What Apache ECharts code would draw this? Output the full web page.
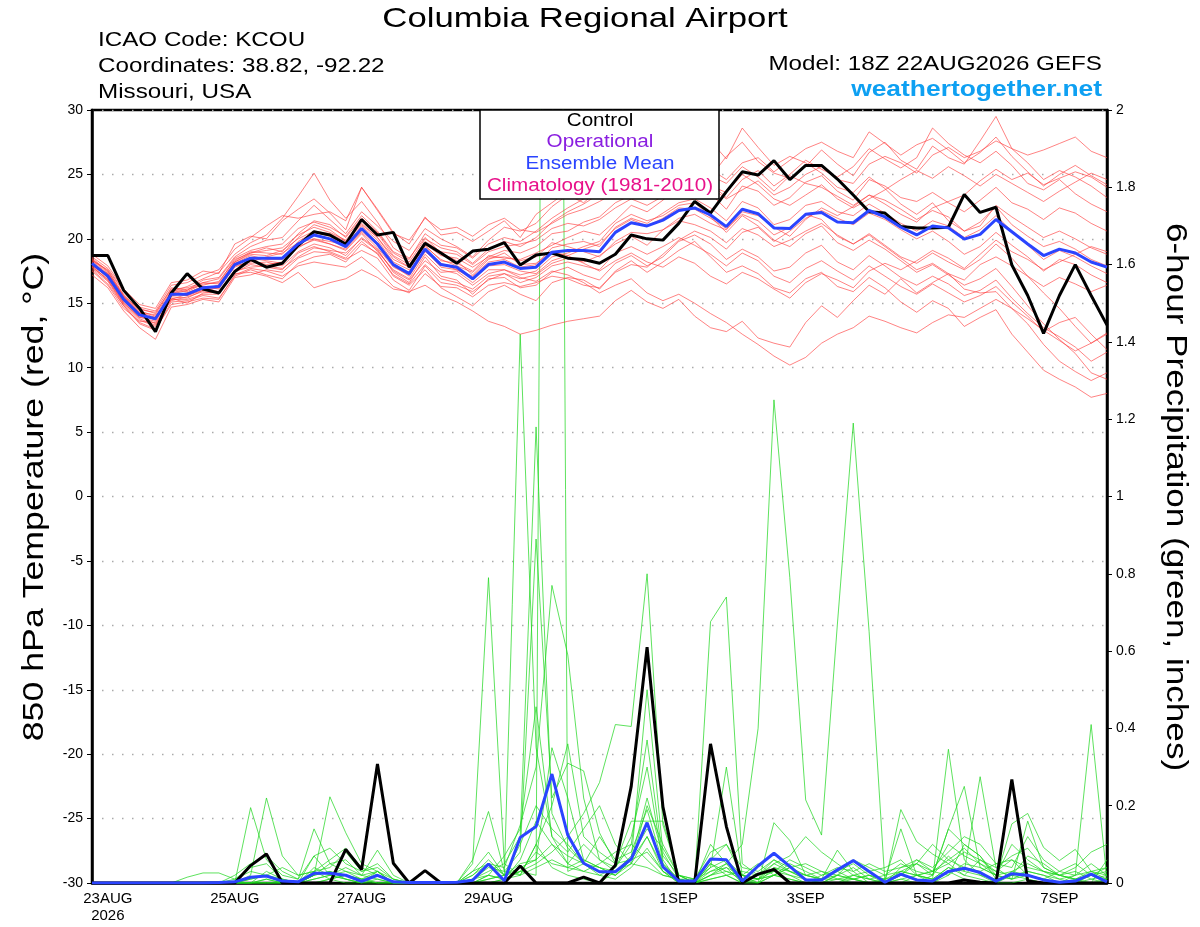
<!DOCTYPE html>
<html>
<head>
<meta charset="utf-8">
<script src="https://cdn.jsdelivr.net/npm/echarts@6.0.0/dist/echarts.min.js"></script>
<style>
html,body{margin:0;padding:0;background:#fff;}
#chart{width:1200px;height:927px;}
</style>
</head>
<body>
<div id="chart"></div>
<script>
// ---- time axis: 6-hourly from 18Z 22AUG2026 (65 steps) ----
const startTime = Date.UTC(2026, 7, 22, 18);
const times = [];
for (let k = 0; k < 65; k++) times.push(new Date(startTime + k * 6 * 3600 * 1000).toISOString().slice(0, 13) + 'Z');
const tickIdx = [1, 9, 17, 25, 37, 45, 53, 61];
const tickText = ['23AUG\n2026', '25AUG', '27AUG', '29AUG', '1SEP', '3SEP', '5SEP', '7SEP'];

// ---- 850 hPa temperature (°C) ----
const tempControl = [18.7,18.7,16.0,14.6,12.8,15.8,17.3,16.1,15.8,17.45,
 18.4,17.8,18.1,19.5,20.55,20.3,19.6,21.5,20.3,20.5,
 17.8,19.65,18.9,18.1,19.05,19.2,19.7,17.97,18.75,18.9,
 18.5,18.4,18.1,18.8,20.3,20.0,19.9,21.2,22.9,22.0,
 23.66,25.2,24.95,26.07,24.6,25.7,25.7,24.64,23.4,22.1,
 22.0,20.95,20.85,20.85,20.9,23.45,22.05,22.45,17.97,15.6,
 12.66,15.6,18.0,15.6,13.3];
const tempMean = [18.1,17.1,15.3,14.1,13.8,15.7,15.7,16.2,16.3,18.0,
 18.5,18.5,18.5,19.6,20.3,20.0,19.4,20.8,19.6,18.0,
 17.3,19.2,18.0,17.8,16.9,18.0,18.2,17.7,17.8,18.95,
 19.1,19.1,19.0,20.5,21.25,21.0,21.45,22.2,22.4,21.85,
 20.95,22.3,21.95,20.85,20.8,21.9,22.05,21.3,21.25,22.2,
 21.7,20.9,20.3,21.0,20.85,19.98,20.35,21.5,20.55,19.6,
 18.7,19.2,18.9,18.2,17.8];
const tempM01 = [18.3,17.6,15.9,14.6,14.2,16.2,16.0,16.8,17.0, 18.6,19.4,19.9,20.1,21.4,22.6,21.5,20.4,22.1,21.0,19.8, 19.1,20.8,20.0,19.4,18.6,19.9,20.9,20.6,21.2,22.5,23.4,22.8,23.9, 24.6,25.3,24.0,25.1,26.2,25.6,24.8,26.4,27.5,26.0,25.1,24.7, 25.6,26.9,25.8,24.9,26.7,27.5,26.1,25.4,27.2,26.3,25.8,27.6, 29.5,27.0,25.9,24.6,25.3,24.8,24.1,23.2];
const tempM02 = [17.6,16.5,14.8,13.4,12.9,15.1,15.2,15.6,15.4, 17.1,17.6,17.2,16.9,18.1,18.6,18.8,18.2,19.6,18.9,17.1, 16.4,17.6,16.2,15.5,14.8,15.9,16.4,15.7,15.2,16.6,17.0,16.8,16.1, 17.5,18.3,17.4,18.2,19.1,19.8,18.6,17.4,17.9,17.3,16.2,15.8, 16.9,17.4,16.3,15.9,17.0,16.2,15.1,14.3,15.2,14.6,13.2,13.9, 14.5,12.6,11.2,9.8,9.1,8.5,7.7,8.0];
const tempM03 = [18.8,17.9,16.1,14.9,14.6,16.6,16.8,17.5,17.3, 19.6,20.2,20.0,21.4,22.3,23.1,22.0,20.7,24.0,22.3,20.5, 19.6,21.7,20.3,20.5,19.8,20.6,21.4,20.1,21.9,22.8,23.7,24.6,23.8, 25.4,26.1,25.9,26.3,27.0,26.8,27.6,26.2,28.6,27.1,25.7,26.4, 25.9,25.1,24.0,23.6,24.8,23.9,22.7,21.9,22.8,21.4,20.6,21.3, 22.5,21.1,20.2,19.4,19.8,19.2,18.4,17.9];
const tempM04 = [17.9,16.8,14.9,13.7,13.2,15.4,15.0,15.8,15.9, 17.3,17.4,17.1,16.6,17.4,16.2,16.6,16.9,17.6,17.0,16.1, 15.9,16.4,15.6,15.1,14.4,13.6,13.2,12.6,12.9,13.3,13.6,13.8,14.0, 15.2,16.0,15.1,14.6,15.3,14.0,13.1,12.8,13.6,12.3,11.9,11.6, 13.5,14.8,13.9,15.2,16.4,15.7,16.9,15.8,16.6,17.3,16.8,18.0, 18.6,17.9,17.1,16.3,17.0,16.5,15.9,16.4];
const tempM05 = [18.0,17.3,15.6,14.3,13.9,15.8,16.1,16.4,16.7, 18.3,19.0,18.9,18.8,20.1,21.1,20.7,19.8,21.2,20.1,18.6, 17.8,19.6,18.7,18.5,17.8,18.6,19.1,18.9,19.4,20.4,20.6,21.3,21.7, 22.8,23.4,23.9,24.2,23.7,24.8,23.5,22.3,24.1,23.7,22.6,23.2, 24.4,24.9,23.7,23.0,24.6,24.1,23.2,22.9,23.6,22.8,22.1,23.0, 24.0,22.8,22.3,21.5,22.4,22.0,21.2,20.6];
const tempM06 = [17.5,16.4,14.6,13.6,13.5,15.2,15.5,15.9,15.8, 17.6,18.1,18.2,17.9,19.0,19.6,19.3,18.7,20.1,19.2,17.4, 16.6,18.6,17.1,16.8,15.7,16.9,17.0,16.2,16.4,17.4,17.8,17.2,16.8, 18.1,18.7,17.9,18.6,19.8,20.3,19.6,18.4,19.2,18.6,17.5,17.8, 18.9,19.5,18.2,17.6,18.7,17.9,17.0,16.4,17.1,16.5,15.6,16.0, 16.8,15.4,14.2,13.1,12.4,11.6,10.5,11.2];
const tempM07 = [18.2,17.2,15.4,14.2,13.7,15.9,16.3,16.9,17.4, 18.8,19.7,20.3,21.6,23.3,25.1,23.0,21.6,22.9,21.3,19.3, 18.5,20.1,18.9,18.3,17.2,18.4,18.9,18.0,18.1,19.0,18.7,18.1,17.5, 18.3,18.9,18.2,17.8,18.6,18.1,17.1,16.5,17.4,16.9,16.1,15.4, 16.6,17.3,16.8,16.2,17.5,18.1,17.6,18.3,19.1,18.5,17.7,18.8, 19.9,19.0,18.4,17.6,18.2,18.8,19.4,19.0];
const tempM08 = [18.5,17.5,15.7,14.4,14.0,15.6,15.8,16.3,16.1, 17.9,18.2,18.6,18.9,19.7,20.0,19.8,19.5,21.0,19.9,18.2, 17.6,19.5,18.3,18.1,17.5,18.7,18.5,18.4,18.9,19.5,20.1,20.6,20.3, 21.4,22.6,22.1,23.0,24.1,24.6,24.0,23.1,23.8,24.5,23.4,24.0, 25.0,25.6,24.6,24.3,25.8,26.4,25.9,25.1,26.5,27.1,26.3,26.8, 27.6,27.0,26.5,26.9,27.4,27.9,26.8,26.3];
const tempM09 = [17.8,16.9,15.1,13.9,13.6,15.5,15.4,16.0,16.2, 17.8,18.3,18.0,18.2,19.3,20.0,19.6,19.1,20.4,19.0,17.6, 16.9,18.8,17.6,17.3,16.4,17.3,17.6,17.0,16.7,17.5,17.2,16.6,15.8, 16.4,16.9,15.8,15.2,15.7,15.0,14.2,13.5,12.6,11.8,10.9,10.2, 10.8,11.9,12.6,13.1,14.0,13.6,13.1,12.7,13.5,14.1,13.9,14.6, 15.3,14.6,13.8,12.9,12.1,11.3,11.9,12.7];
const tempM10 = [18.1,17.0,15.2,14.0,13.9,15.7,15.6,16.1,16.4, 18.1,18.7,18.4,18.4,19.8,20.5,20.2,19.3,20.6,19.5,17.9, 17.1,19.0,18.1,17.6,17.1,18.2,18.4,17.8,18.0,19.3,19.6,19.8,19.4, 20.9,21.6,21.2,22.0,22.8,23.1,22.4,21.4,22.9,22.4,21.1,21.5, 22.6,22.9,22.1,21.8,22.7,22.0,21.2,20.6,21.4,21.0,20.1,20.7, 21.8,20.6,19.5,18.4,19.1,18.6,17.9,17.3];
const tempM11 = [18.4,17.4,15.5,14.3,14.1,16.0,15.9,16.5,16.6, 18.4,18.9,19.3,19.0,20.4,21.4,21.1,20.1,21.6,20.5,18.9, 18.2,20.0,19.3,19.0,18.1,19.2,19.8,19.4,20.1,21.3,22.1,22.7,23.5, 24.1,25.0,26.0,25.4,25.9,25.0,24.3,23.2,24.6,25.3,24.1,25.0, 26.1,25.4,24.8,25.6,27.0,26.2,25.5,26.3,28.6,27.4,26.5,25.9, 26.8,25.7,24.3,23.8,24.6,23.5,22.7,22.1];
const tempM12 = [17.2,16.2,14.4,13.1,12.2,14.7,14.9,15.3,15.1, 17.0,17.2,17.6,17.4,18.5,19.0,18.9,18.4,19.1,18.5,16.8, 16.0,17.9,16.6,16.4,15.9,16.8,17.3,16.9,17.2,18.1,18.5,18.2,18.7, 19.6,20.2,19.5,20.7,21.4,21.1,20.6,19.7,20.8,20.3,19.4,19.9, 20.6,21.2,20.3,19.6,20.4,19.5,18.6,18.1,18.9,18.2,17.6,18.4, 19.6,18.5,17.1,15.8,14.6,13.2,11.9,12.6];
const tempM13 = [18.6,17.7,16.0,14.7,14.4,16.4,16.6,17.2,17.6, 19.2,20.1,21.0,21.8,21.6,21.9,22.1,21.4,24.0,22.2,20.4, 19.9,21.6,20.7,20.9,20.2,21.1,21.6,20.7,20.5,21.2,21.9,22.3,22.9, 23.6,24.2,23.5,24.0,23.8,24.5,24.9,24.3,25.6,24.8,23.7,24.9, 24.3,24.0,23.3,22.6,23.4,22.7,21.9,21.3,22.4,22.9,23.4,24.5, 25.4,24.6,25.1,24.2,24.7,25.2,24.8,24.0];
const tempM14 = [17.9,17.1,15.3,14.1,13.4,15.3,15.7,16.2,15.9, 17.5,17.8,17.9,17.7,18.6,19.3,19.1,18.9,20.0,19.1,17.5, 16.8,18.3,17.4,17.5,16.6,17.6,17.6,17.2,17.5,18.6,18.9,19.4,19.8, 21.2,21.9,21.4,21.8,22.6,22.8,21.7,20.5,21.8,21.0,19.9,19.4, 20.4,21.0,19.7,19.1,19.9,19.2,18.3,17.4,18.0,17.2,16.4,16.9, 17.7,16.3,14.8,13.4,12.2,11.1,9.6,9.1];
const tempM15 = [18.2,17.0,15.0,13.9,13.9,15.9,15.6,16.0,16.4, 18.2,18.8,18.7,19.1,20.0,20.6,20.4,19.8,21.1,20.1,18.4, 17.8,19.4,18.4,17.9,17.4,18.5,18.6,18.3,18.6,19.7,19.4,19.0,18.6, 19.8,20.5,20.4,20.7,21.6,21.9,21.2,20.7,22.1,21.8,20.9,20.2, 21.5,22.4,21.8,22.5,23.4,23.0,22.3,21.5,22.2,21.7,20.6,21.0, 22.6,21.7,20.9,20.1,20.6,20.0,19.3,18.8];
const tempM16 = [18.0,17.0,15.3,14.2,13.7,15.6,15.8,16.3,16.2, 18.0,18.5,18.3,18.1,19.4,19.9,19.6,19.2,20.5,19.3,17.8, 17.2,19.1,17.8,17.6,16.9,17.9,18.0,17.5,17.3,18.3,18.7,19.2,19.6, 20.8,21.5,21.0,21.6,22.4,22.3,21.6,20.8,21.9,21.4,20.3,20.9, 21.9,21.5,20.2,19.6,20.3,19.4,18.5,17.6,18.1,17.3,16.1,15.8, 15.9,14.6,13.4,11.8,10.5,9.7,9.0,9.6];
const tempM17 = [18.3,17.3,15.5,14.2,13.8,15.7,16.0,16.6,16.9, 18.5,19.1,19.4,19.6,20.8,21.3,20.9,20.2,21.8,20.6,19.0, 18.4,20.4,19.5,19.3,18.5,19.6,20.1,19.8,20.6,21.6,22.4,23.1,23.6, 24.0,24.6,24.3,24.9,25.5,26.0,25.4,24.6,25.9,26.3,25.2,26.1, 27.0,27.5,26.8,26.3,28.3,27.4,26.5,27.3,27.8,26.9,25.9,26.7, 27.9,26.4,25.2,24.1,25.0,25.7,24.9,24.2];
const tempM18 = [17.7,16.7,14.8,13.5,13.0,14.9,15.1,15.4,15.3, 17.2,17.7,17.5,17.1,17.9,18.2,18.0,17.8,18.6,17.6,16.3, 15.8,17.3,16.3,16.2,15.5,16.4,16.6,16.3,16.6,17.1,16.9,16.4,16.2, 17.4,18.0,17.8,18.8,19.9,20.6,20.1,19.2,20.5,20.9,19.8,20.6, 21.6,22.2,21.6,21.1,22.0,21.5,20.7,20.0,20.6,19.8,18.8,19.4, 20.5,19.5,18.6,17.5,18.4,18.0,17.2,16.6];
const tempM19 = [18.4,17.5,15.6,14.5,14.3,16.1,16.2,16.6,16.5, 18.2,18.9,19.1,19.3,20.3,20.9,20.5,19.9,21.4,20.4,18.7, 18.0,19.8,19.0,18.8,18.0,19.0,19.4,19.6,19.9,20.8,21.2,21.0,21.5, 22.4,23.1,22.6,23.3,24.6,25.2,24.1,23.6,25.0,24.2,23.1,22.6, 23.4,24.2,23.1,22.4,23.1,23.8,24.6,25.3,24.7,25.6,24.9,24.1, 25.0,24.3,23.6,22.9,23.7,24.4,25.1,24.6];
const tempM20 = [17.8,16.8,15.0,13.8,13.3,15.3,15.3,15.7,15.7, 17.4,18.0,17.8,17.6,18.9,19.4,19.0,18.5,19.8,18.8,17.2, 16.5,18.0,16.9,16.6,16.1,17.1,17.3,16.6,17.0,17.9,18.2,17.9,17.6, 18.9,19.4,18.8,19.4,20.1,19.5,18.8,17.9,18.9,18.3,17.1,16.6, 17.7,18.3,17.5,16.8,17.9,17.1,16.3,15.7,16.5,15.8,15.1,15.6, 16.3,15.1,14.0,12.8,13.5,13.9,12.6,11.4];
const tempMembers = [tempM01,tempM02,tempM03,tempM04,tempM05,tempM06,tempM07,tempM08,tempM09,tempM10,tempM11,tempM12,tempM13,tempM14,tempM15,tempM16,tempM17,tempM18,tempM19,tempM20];

// ---- 6-hour precipitation (inches) ----
const precControl = [0,0,0,0,0,0,0,0,0,0, 0.045,0.075,0,0,0,0,0.087,0.035,0.308,0.051, 0,0.032,0,0,0,0,0,0.044,0,0, 0,0.015,0,0.046,0.25,0.61,0.197,0,0,0.36, 0.146,0,0.023,0.035,0,0,0,0,0,0, 0,0,0,0,0,0.008,0.002,0,0.268,0.005, 0,0,0,0,0];
const precMean = [0,0,0,0,0,0,0,0,0.001,0.003, 0.015,0.018,0.005,0.003,0.025,0.025,0.02,0.004,0.02,0.003, 0.001,0.001,0.001,0.002,0.007,0.049,0.006,0.118,0.146,0.282, 0.124,0.051,0.029,0.029,0.062,0.156,0.042,0.005,0.005,0.062, 0.06,0.005,0.044,0.077,0.043,0.008,0.008,0.034,0.058,0.03, 0.002,0.023,0.008,0.005,0.03,0.038,0.027,0.005,0.024,0.02, 0.008,0.002,0.005,0.023,0.003];
const precP01 = [0,0,0,0,0,0,0,0,0,0.01, 0.04,0.05,0.01,0,0.02,0.03,0.01,0,0.01,0, 0,0,0,0,0.05,0.79,0.05,0.02,0.10,0.04, 0.02,0.01,0,0.03,0.06,0.12,0.04,0,0,0.02, 0.05,0,0.01,0.03,0.02,0,0,0.01,0,0, 0,0.02,0.01,0,0.03,0.01,0,0,0.02,0.01, 0,0,0.01,0.02,0];
const precP02 = [0,0,0,0,0,0,0,0,0,0, 0.02,0.22,0.07,0.02,0.03,0.01,0.02,0.01,0.03,0, 0,0,0,0,0.02,0.06,0.02,1.42,0.35,0.12, 0.05,0.03,0.02,0.01,0.04,0.09,0.03,0,0,0.01, 0.02,0,0,0.156,0.11,0.02,0.01,0.085,0.03,0, 0,0.01,0,0.02,0.14,0.10,0.07,0.02,0.01,0.03, 0.02,0,0,0.01,0];
const precP03 = [0,0,0,0,0,0,0,0,0,0, 0.195,0.06,0.02,0.01,0.14,0.05,0.03,0.02,0.085,0.02, 0,0,0,0,0.01,0.03,0.05,0.12,1.18,0.18, 0.09,0.05,0.04,0.02,0.06,0.5,0.08,0.01,0,0.03, 0.04,0,0.02,0.05,0.03,0.01,0,0,0.02,0.01, 0,0.19,0.107,0.075,0.05,0.02,0.01,0,0.03,0.02, 0.01,0,0,0,0.01];
const precP04 = [0,0,0,0,0,0,0.015,0.026,0.026,0.01, 0.03,0.02,0.01,0,0.02,0.223,0.13,0.05,0.03,0.01, 0,0,0,0,0.06,0.185,0.03,0.08,0.89,0.22, 0.31,0.29,0.13,0.05,0.16,0.16,0.16,0.02,0.01,0.04, 0.3,0.02,0,0.04,0.02,0.01,0,0.02,0.01,0, 0.01,0.14,0.02,0,0.02,0.1,0.07,0.01,0.153,0.18, 0.092,0.058,0.087,0.03,0.01];
const precP05 = [0,0,0,0,0,0,0,0,0,0, 0,0.03,0.01,0,0.01,0.02,0.01,0,0,0, 0,0,0,0,0.01,0.02,0.01,0.03,0.02,7.0, 0.03,0.05,0.02,0.04,0.1,0.37,0.06,0,0,0.05, 0.03,0.01,0,0.02,0.01,0,0,0,0.01,0, 0,0,0.02,0.01,0.346,0.06,0.02,0,0,0.01, 0,0,0,0,0];
const precP06 = [0,0,0,0,0,0,0,0,0,0, 0.01,0.02,0,0,0.07,0.02,0.04,0.02,0.01,0, 0,0,0,0,0.02,0.05,0.04,0.15,0.3,0.77, 0.59,0.22,0.06,0.03,0.05,0.2,0.1,0.02,0,0.01, 0.02,0,0,0.02,0.05,0.03,0.01,0.03,0.01,0.02, 0,0.03,0.05,0.02,0.14,0.25,0.04,0.02,0.01,0.16, 0.04,0.02,0.01,0,0.06];
const precP07 = [0,0,0,0,0,0,0,0,0,0, 0,0.01,0,0,0.02,0.05,0.06,0.02,0.03,0, 0,0,0,0,0,0.02,0.07,0.14,0.456,0.12, 0.08,0.14,0.2,0.1,0.05,0.12,0.03,0.01,0.01,0.08, 0.1,0.02,0.01,0.04,0.03,0.02,0.01,0.02,0.04,0.01, 0.02,0.05,0.03,0.02,0.07,0.03,0.275,0.04,0.01,0.02, 0.01,0,0.02,0.03,0.02];
const precP08 = [0,0,0,0,0,0,0,0,0,0, 0,0,0,0,0,0.01,0.02,0.01,0.02,0, 0,0,0,0,0,0.01,0.02,0.03,0.05,0.08, 0.12,0.18,0.26,0.41,0.405,0.8,0.15,0.02,0,0.04, 0.06,0.02,0.01,0.02,0.04,0.02,0.01,0.01,0.01,0.02, 0.01,0.03,0.02,0.01,0.04,0.03,0.02,0.01,0.02,0.03, 0.02,0.01,0.02,0.41,0.01];
const precP09 = [0,0,0,0,0,0,0,0,0,0, 0,0,0,0,0.04,0.02,0.03,0.01,0,0, 0,0,0,0,0,0,0.01,0.02,0.04,0.06, 0.04,0.03,0.05,0.08,0.1,0.06,0.02,0.01,0,0.676, 0.74,0.05,0.02,0.06,0.04,0.02,0.03,0.02,0.01,0, 0,0.04,0.06,0.03,0.02,0.05,0.04,0.02,0.03,0.05, 0.03,0.01,0,0.02,0.03];
const precP10 = [0,0,0,0,0,0,0,0,0,0, 0,0,0,0,0.01,0.02,0.01,0,0,0, 0,0,0,0,0,0.01,0.02,0.05,0.06,0.1, 0.07,0.05,0.03,0.02,0.06,0.08,0.03,0,0.01,0.03, 0.05,0.1,0.4,1.25,0.79,0.215,0.124,0.67,1.19,0.65, 0,0.02,0.05,0.03,0.06,0.09,0.05,0.02,0.1,0.06, 0.03,0.02,0.01,0.02,0.01];
const precP11 = [0,0,0,0,0,0,0,0,0,0.02, 0.05,0.07,0.03,0.01,0.07,0.09,0.05,0.03,0.04,0.01, 0,0,0,0,0.03,0.08,0.02,0.04,0.06,0.35, 0.22,0.06,0.04,0.03,0.07,0.14,0.09,0.02,0,0.02, 0.04,0.02,0.01,0.05,0.07,0.12,0.08,0.05,0.02,0.03, 0.04,0.06,0.02,0.03,0.1,0.07,0.05,0.03,0.06,0.02, 0.01,0.03,0.05,0.02,0.04];
const precP12 = [0,0,0,0,0,0,0,0,0,0, 0.01,0.02,0.04,0.02,0.03,0.06,0.09,0.04,0.02,0, 0,0,0,0,0.03,0.05,0.02,0.1,0.2,0.14, 0.1,0.05,0.12,0.06,0.08,0.19,0.05,0.01,0,0.05, 0.02,0.03,0.02,0.03,0.06,0.04,0.02,0.03,0.05,0.02, 0.01,0.02,0.06,0.04,0.08,0.12,0.1,0.05,0.04,0.12, 0.06,0.03,0.02,0.05,0.02];
const precP13 = [0,0,0,0,0,0,0,0,0,0, 0,0,0,0,0.03,0.04,0.08,0.03,0.05,0.01, 0,0,0,0,0,0,0.01,0.03,0.08,0.05, 0.04,0.06,0.04,0.02,0.05,0.04,0.02,0.01,0,0.02, 0.03,0.02,0.05,0.02,0.01,0,0.02,0.04,0.03,0.05, 0.03,0.04,0.05,0.1,0.06,0.04,0.03,0.05,0.06,0.04, 0.03,0.02,0.04,0.08,0.1];
const precP14 = [0,0,0,0,0,0,0,0,0,0, 0,0.01,0,0,0.02,0.03,0.02,0.01,0,0, 0,0,0,0,0.01,0.04,0.03,0.02,0.1,0.2, 0.36,0.12,0.08,0.05,0.06,0.22,0.07,0.02,0.01,0.06, 0.1,0.04,0.03,0.06,0.03,0.01,0,0.02,0.06,0.04, 0.02,0.03,0.02,0.01,0.04,0.02,0.06,0.04,0.07,0.09, 0.04,0.02,0.03,0.01,0.02];
const precP15 = [0,0,0,0,0,0,0,0,0,0, 0,0,0,0,0,0.01,0,0,0.03,0, 0,0,0,0,0,0.02,0.01,0.06,0.16,0.1, 0.05,0.1,0.06,0.04,0.12,0.3,0.05,0.01,0,0.1, 0.05,0.02,0.01,0.02,0.04,0.05,0.03,0.01,0.02,0.01, 0,0.01,0.02,0.03,0.05,0.08,0.06,0.03,0.02,0.07, 0.05,0.02,0.01,0.03,0.04];
const precMembers = [precP01,precP02,precP03,precP04,precP05,precP06,precP07,precP08,precP09,precP10,precP11,precP12,precP13,precP14,precP15];

// ---- axis ticks ----
const tempMin = -30, tempMax = 30, tempStep = 5;
const precMin = 0, precMax = 2, precStep = 0.2;

const FONT = '"Liberation Sans", Arial, Helvetica, sans-serif';
const chart = echarts.init(document.getElementById('chart'), null, {renderer: 'canvas'});

const series = [];
precMembers.forEach(d => series.push({type: 'line', yAxisIndex: 1, data: d, symbol: 'none', silent: true, z: 2,
  lineStyle: {color: 'rgba(30,215,30,0.9)', width: 0.8}}));
tempMembers.forEach(d => series.push({type: 'line', yAxisIndex: 0, data: d, symbol: 'none', silent: true, z: 3,
  lineStyle: {color: 'rgba(255,60,60,0.8)', width: 0.8}}));
series.push({type: 'line', yAxisIndex: 1, data: precControl, symbol: 'none', z: 5, lineStyle: {color: '#000', width: 3}});
series.push({type: 'line', yAxisIndex: 1, data: precMean, symbol: 'none', z: 6, lineStyle: {color: '#2a44ff', width: 3}});
series.push({type: 'line', yAxisIndex: 0, data: tempControl, symbol: 'none', z: 5, lineStyle: {color: '#000', width: 3}});
series.push({type: 'line', yAxisIndex: 0, data: tempMean, symbol: 'none', z: 6, lineStyle: {color: '#2a44ff', width: 3}});

// text helper; sx stretches glyphs horizontally to match the wide reference lettering
const txt = (text, x, y, size, align, color, sx, extra) => Object.assign({
  type: 'text', x: x, y: y, z: 100, scaleX: sx || 1,
  style: {text: text, font: size + 'px ' + FONT, fill: color || '#000', textAlign: align || 'left', textVerticalAlign: 'middle'}
}, extra || {});

const option = {
  animation: false,
  backgroundColor: '#fff',
  grid: {left: 92, right: 93, top: 110, bottom: 44, show: true, borderColor: '#000', borderWidth: 2.5, backgroundColor: 'transparent'},
  xAxis: {
    type: 'category', data: times, boundaryGap: false,
    axisLine: {show: true, onZero: false, lineStyle: {color: '#000', width: 2.5}},
    axisTick: {show: false},
    splitLine: {show: false},
    axisLabel: {
      interval: (idx) => tickIdx.indexOf(idx) >= 0,
      formatter: (v, idx) => { const k = tickIdx.indexOf(idx); return k >= 0 ? tickText[k] : ''; },
      color: '#000', fontSize: 15, fontFamily: FONT, margin: 7, lineHeight: 17
    }
  },
  yAxis: [
    {type: 'value', min: tempMin, max: tempMax, interval: tempStep, position: 'left',
     axisLine: {show: true, lineStyle: {color: '#000', width: 2.5}},
     axisTick: {show: true, length: 5, lineStyle: {color: '#000', width: 1}},
     axisLabel: {color: '#000', fontSize: 14, fontFamily: FONT, margin: 9},
     splitLine: {show: true, lineStyle: {color: '#aaa', width: 1.3, type: [1.5, 8.5]}}},
    {type: 'value', min: precMin, max: precMax, interval: precStep, position: 'right',
     axisLine: {show: true, lineStyle: {color: '#000', width: 2.5}},
     axisTick: {show: true, length: 5, lineStyle: {color: '#000', width: 1}},
     axisLabel: {color: '#000', fontSize: 14, fontFamily: FONT, margin: 9},
     splitLine: {show: false}}
  ],
  series: series,
  graphic: [
    txt('Columbia Regional Airport', 585, 19, 28, 'center', '#000', 1.24),
    txt('ICAO Code: KCOU', 98, 40, 20, 'left', '#000', 1.21),
    txt('Coordinates: 38.82, -92.22', 98, 66, 20, 'left', '#000', 1.21),
    txt('Missouri, USA', 98, 92, 20, 'left', '#000', 1.21),
    txt('Model: 18Z 22AUG2026 GEFS', 1102, 64, 20, 'right', '#000', 1.21),
    {type: 'text', x: 1102, y: 90, z: 100, scaleX: 1.2, style: {text: 'weathertogether.net', font: 'bold 22px ' + FONT, fill: '#0ea0f2', textAlign: 'right', textVerticalAlign: 'middle'}},
    txt('850 hPa Temperature (red, °C)', 35, 497, 30, 'center', '#000', 1.19, {rotation: Math.PI / 2}),
    txt('6-hour Precipitation (green, inches)', 1175, 497, 30, 'center', '#000', 1.17, {rotation: -Math.PI / 2}),
    {type: 'rect', z: 100, shape: {x: 480, y: 110, width: 239, height: 89}, style: {fill: '#fff', stroke: '#000', lineWidth: 1.5}},
    txt('Control', 600, 121, 17.5, 'center', '#000', 1.18, {z: 101}),
    txt('Operational', 600, 142, 17.5, 'center', '#8a1ee0', 1.18, {z: 101}),
    txt('Ensemble Mean', 600, 164, 17.5, 'center', '#2a44ff', 1.18, {z: 101}),
    txt('Climatology (1981-2010)', 600, 186, 17.5, 'center', '#e8118a', 1.18, {z: 101})
  ]
};
chart.setOption(option);
</script>
</body>
</html>
